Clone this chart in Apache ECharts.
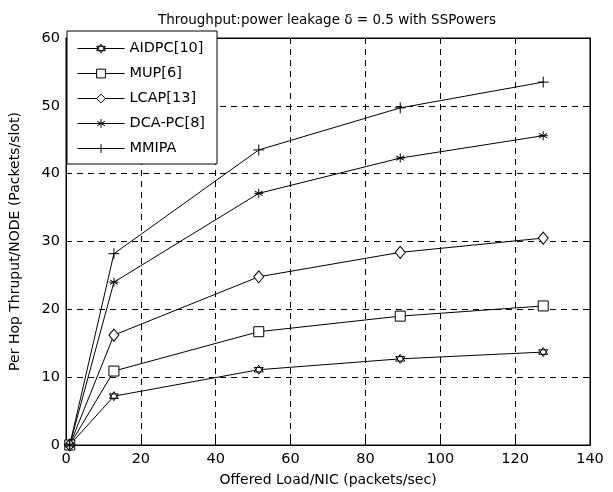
<!DOCTYPE html>
<html><head><meta charset="utf-8">
<script src="https://cdn.jsdelivr.net/npm/echarts@6/dist/echarts.min.js"></script>
<style>html,body{margin:0;padding:0;background:#fff}#c{width:613px;height:492px}</style>
</head><body><div id="c"></div>
<script>
const xLoad = [1, 12.8, 51.5, 89.3, 127.5];
const seriesNames = ['AIDPC[10]', 'MUP[6]', 'LCAP[13]', 'DCA-PC[8]', 'MMIPA'];
const aidpc = [0, 7.2, 11.1, 12.7, 13.7];
const mup = [0, 10.9, 16.7, 19.0, 20.5];
const lcap = [0, 16.2, 24.8, 28.4, 30.5];
const dcapc = [0, 24.0, 37.1, 42.3, 45.6];
const mmipa = [0, 28.2, 43.5, 49.7, 53.5];
const xTicks = [0, 20, 40, 60, 80, 100, 120, 140];
const yTicks = [0, 10, 20, 30, 40, 50, 60];

const FONT = "'Comic Sans MS', 'DejaVu Sans', sans-serif";
const symbols = [
  'path://M5,0L9.33,7.5L0.67,7.5Z M5,10L0.67,2.5L9.33,2.5Z',
  'rect',
  'diamond',
  'path://M5,0L5,10M0.67,2.5L9.33,7.5M0.67,7.5L9.33,2.5M0,5L10,5',
  'path://M5,0L5,10M0,5L10,5'
];
const sizes = [[9,9],[10,10],[10,12],[9,9],[11,11]];
const allData = [aidpc, mup, lcap, dcapc, mmipa];

const chart = echarts.init(document.getElementById('c'), null, {renderer: 'canvas'});
const gridLine = {show: true, lineStyle: {color: '#000', type: [6, 5], width: 1}};
const series = seriesNames.map((n, i) => ({
  name: n, type: 'line',
  data: xLoad.map((x, j) => [x, allData[i][j]]),
  symbol: symbols[i], symbolSize: sizes[i],
  showAllSymbol: true,
  lineStyle: {color: '#000', width: 1},
  itemStyle: {color: '#fff', borderColor: '#000', borderWidth: 1},
  emphasis: {disabled: true},
  animation: false, z: 3
}));
chart.setOption({
  animation: false,
  title: {text: 'Throughput:power leakage \u03b4 = 0.5 with SSPowers', left: 322, textAlign: 'center', top: 8,
    textStyle: {fontFamily: FONT, fontSize: 13.5, fontWeight: 'normal', color: '#000'}},
  grid: {left: 65, right: 23, top: 38, bottom: 42, show: true, borderColor: '#000', borderWidth: 1, backgroundColor: 'transparent'},
  legend: {
    left: 67, top: 31, orient: 'vertical', itemWidth: 47, itemHeight: 11, itemGap: 10,
    padding: [10, 12, 8, 10],
    backgroundColor: '#fff', borderColor: '#000', borderWidth: 1,
    lineStyle: {width: 1, color: '#000'},
    itemStyle: {color: '#fff', borderColor: '#000', borderWidth: 1},
    textStyle: {fontFamily: FONT, fontSize: 14.5, color: '#000'},
    data: seriesNames
  },
  xAxis: [{
    type: 'value', min: 0, max: 140, interval: 20,
    name: 'Offered Load/NIC (packets/sec)', nameLocation: 'middle', nameGap: 28,
    nameTextStyle: {fontFamily: FONT, fontSize: 14, color: '#000'},
    axisLine: {show: true, onZero: false, lineStyle: {color: '#000'}},
    axisTick: {show: true, inside: true, length: 5, lineStyle: {color: '#000'}},
    axisLabel: {fontFamily: FONT, fontSize: 14.5, color: '#000', margin: 7},
    splitLine: gridLine
  }, {
    type: 'value', min: 0, max: 140, interval: 20, position: 'top',
    axisLine: {show: true, onZero: false, lineStyle: {color: '#000'}},
    axisTick: {show: true, inside: true, length: 5, lineStyle: {color: '#000'}},
    axisLabel: {show: false}, splitLine: {show: false}
  }],
  yAxis: [{
    type: 'value', min: 0, max: 60, interval: 10,
    name: 'Per Hop Thruput/NODE (Packets/slot)', nameLocation: 'middle', nameGap: 44,
    nameTextStyle: {fontFamily: FONT, fontSize: 14, color: '#000'},
    axisLine: {show: true, onZero: false, lineStyle: {color: '#000'}},
    axisTick: {show: true, inside: true, length: 5, lineStyle: {color: '#000'}},
    axisLabel: {fontFamily: FONT, fontSize: 14.5, color: '#000', margin: 6},
    splitLine: gridLine
  }, {
    type: 'value', min: 0, max: 60, interval: 10, position: 'right',
    axisLine: {show: true, onZero: false, lineStyle: {color: '#000'}},
    axisTick: {show: true, inside: true, length: 5, lineStyle: {color: '#000'}},
    axisLabel: {show: false}, splitLine: {show: false}
  }],
  series: series
});
</script></body></html>
